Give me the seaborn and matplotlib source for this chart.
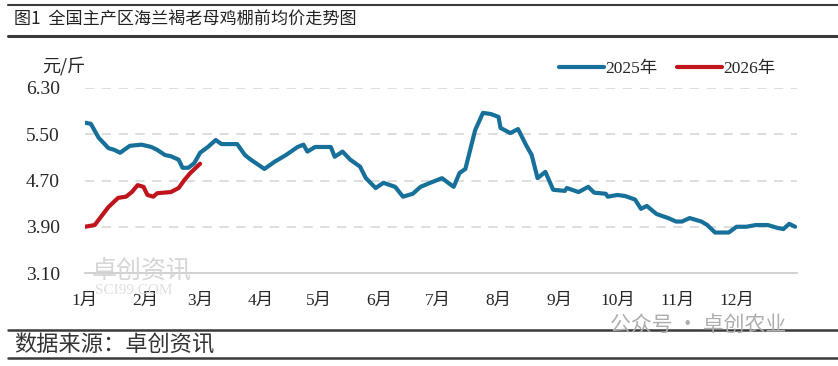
import matplotlib.pyplot as plt
import pandas as pd
import seaborn as sns
from matplotlib.lines import Line2D

# month-day and price (yuan/jin)
days_2025 = ['01-01', '01-04', '01-08', '01-13', '01-16', '01-19', '01-24', '01-30',
             '02-04', '02-07', '02-11', '02-14', '02-18', '02-20', '02-23', '02-26',
             '03-01', '03-05', '03-09', '03-12', '03-20', '03-24', '03-27',
             '04-03', '04-08', '04-14', '04-20', '04-23', '04-25', '04-29',
             '05-07', '05-09', '05-13', '05-17', '05-22', '05-25', '05-30',
             '06-03', '06-09', '06-13', '06-18', '06-22', '06-27',
             '07-03', '07-09', '07-12', '07-15', '07-20', '07-24', '07-28',
             '08-01', '08-02', '08-07', '08-11', '08-15', '08-18', '08-21', '08-25', '08-29',
             '09-04', '09-05', '09-11', '09-16', '09-19', '09-25', '09-26',
             '10-01', '10-05', '10-10', '10-13', '10-16', '10-21', '10-27', '10-31',
             '11-03', '11-07', '11-13', '11-16', '11-20', '11-27',
             '12-01', '12-06', '12-11', '12-17', '12-22', '12-25', '12-28', '12-31']
price_2025 = [5.70, 5.68, 5.44, 5.26, 5.23, 5.18, 5.30, 5.32,
              5.28, 5.23, 5.14, 5.12, 5.06, 4.92, 4.92, 5.00,
              5.18, 5.28, 5.40, 5.33, 5.33, 5.14, 5.06,
              4.90, 5.02, 5.14, 5.28, 5.32, 5.20, 5.28,
              5.28, 5.11, 5.20, 5.06, 4.94, 4.74, 4.57,
              4.66, 4.59, 4.42, 4.47, 4.59, 4.66,
              4.74, 4.59, 4.83, 4.90, 5.57, 5.87, 5.85,
              5.80, 5.61, 5.52, 5.59, 5.32, 5.14, 4.74, 4.85, 4.54,
              4.52, 4.57, 4.50, 4.59, 4.49, 4.47, 4.42,
              4.45, 4.43, 4.37, 4.21, 4.26, 4.12, 4.05, 3.99,
              3.99, 4.05, 3.99, 3.93, 3.80, 3.80,
              3.90, 3.90, 3.93, 3.93, 3.88, 3.86, 3.95, 3.90]

days_2026 = ['01-01', '01-06', '01-08', '01-13', '01-18', '01-22', '01-25', '01-28',
             '01-31', '02-02', '02-05', '02-07', '02-14', '02-18', '02-21', '02-24', '03-01']
price_2026 = [3.90, 3.93, 4.02, 4.24, 4.40, 4.42, 4.50, 4.62,
              4.59, 4.45, 4.42, 4.48, 4.50, 4.57, 4.71, 4.83, 4.99]

years = ['2025年', '2026年']
colors = ['#17709a', '#c0141c']
y_ticks = [3.10, 3.90, 4.70, 5.50, 6.30]
month_labels = [f'{m}月' for m in range(1, 13)]

# both years drawn on one Jan-Dec axis
df = pd.concat([
    pd.DataFrame({'date': pd.to_datetime(['2025-' + d for d in days_2025]),
                  'price': price_2025, 'year': years[0]}),
    pd.DataFrame({'date': pd.to_datetime(['2025-' + d for d in days_2026]),
                  'price': price_2026, 'year': years[1]}),
])

sns.set_style('white')
plt.rcParams['font.family'] = ['Liberation Serif', 'Noto Sans CJK SC', 'DejaVu Sans']
cjk = ['Noto Sans CJK SC', 'DejaVu Sans']

fig = plt.figure(figsize=(8.38, 3.66), dpi=100)
ax = fig.add_axes([85 / 838, 1 - 273 / 366, 712 / 838, 185 / 366])

sns.lineplot(data=df, x='date', y='price', hue='year', palette=colors,
             linewidth=3.0, legend=False, ax=ax)

ax.set_xlim(pd.Timestamp('2025-01-01'), pd.Timestamp('2026-01-01'))
ax.set_ylim(3.10, 6.30)
ax.set_yticks(y_ticks)
ax.set_yticklabels([f'{v:.2f}' for v in y_ticks], fontsize=14, color='#262626')
ticks = list(pd.date_range('2025-01-01', '2026-01-01', freq='MS'))
ax.set_xticks(ticks)
ax.set_xticklabels(month_labels + [''], fontsize=12.5, color='#262626')
ax.set_xlabel('')
ax.set_ylabel('')
ax.tick_params(axis='y', length=0, pad=18)
ax.tick_params(axis='x', length=4, color='#c8c8c8', pad=10)

for y in y_ticks[1:]:
    ax.axhline(y, color='#d4d4d4', linewidth=1.1, dashes=(6, 5), zorder=0)
for s in ['top', 'right', 'left']:
    ax.spines[s].set_visible(False)
ax.spines['bottom'].set_color('#c8c8c8')
ax.spines['bottom'].set_linewidth(1.2)

handles = [Line2D([], [], color=c, linewidth=3.0) for c in colors]
ax.legend(handles, years, loc='lower right', bbox_to_anchor=(0.98, 1.02), ncol=2,
          frameon=False, fontsize=12.5, handlelength=2.6, handletextpad=0.1,
          columnspacing=1.1, borderaxespad=0.0)

fig.text(42 / 838, 1 - 66 / 366, '元/斤', fontsize=13, family=cjk,
         color='#262626', va='center')

# header and footer rules
fig.add_artist(Line2D([8 / 838, 1], [1 - 5 / 366] * 2, color='#3a3a3a', linewidth=1.5))
fig.add_artist(Line2D([8 / 838, 1], [1 - 36 / 366] * 2, color='#3a3a3a', linewidth=2.2))
fig.add_artist(Line2D([8 / 838, 1], [1 - 330 / 366] * 2, color='#3a3a3a', linewidth=1.8))
fig.add_artist(Line2D([8 / 838, 1], [1 - 358 / 366] * 2, color='#3a3a3a', linewidth=1.8))
fig.text(14 / 838, 1 - 20 / 366, '图1  全国主产区海兰褐老母鸡棚前均价走势图',
         fontsize=12.3, family=cjk, color='#222222', va='center')
fig.text(14 / 838, 1 - 345 / 366, '数据来源：卓创资讯', fontsize=16, family=cjk,
         color='#333333', va='center')

# watermarks
fig.text(92 / 838, 1 - 270 / 366, '卓创资讯', fontsize=18, family=cjk,
         color='#d6d6d6', va='center', zorder=0)
fig.text(95 / 838, 1 - 290 / 366, 'SCI99.COM', fontsize=11, color='#dedede',
         va='center', zorder=0)
fig.text(610 / 838, 1 - 325 / 366, '公众号 · 卓创农业', fontsize=15, family=cjk,
         color='#adadad', va='center')

fig.savefig('out.png', dpi=100)
